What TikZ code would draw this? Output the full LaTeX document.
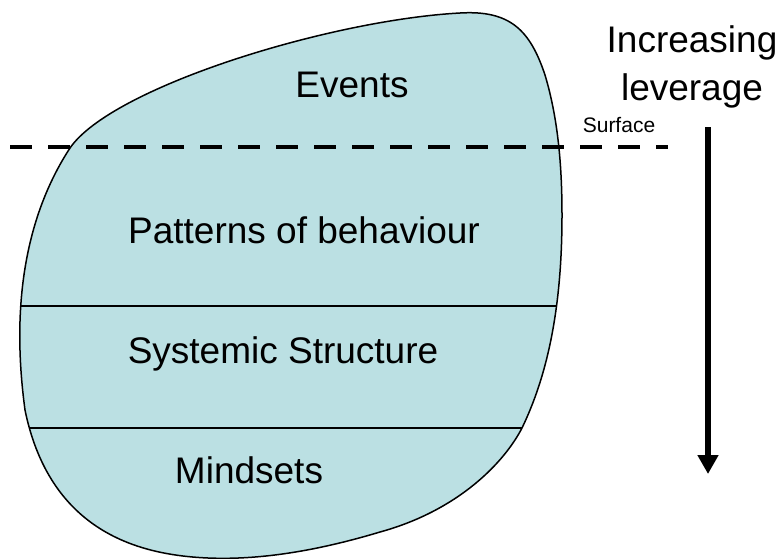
\documentclass[tikz,border=0pt]{standalone}
\usepackage{fontspec}
\setmainfont{Liberation Sans}
\usetikzlibrary{arrows.meta}
\definecolor{blobfill}{RGB}{187,224,227}
\tikzset{
  lbl/.style={inner sep=0pt, anchor=base, font=\fontsize{37}{42}\selectfont},
  small/.style={inner sep=0pt, anchor=base, font=\fontsize{21}{24}\selectfont},
  divider/.style={line width=1.5pt},
  surfaceline/.style={line width=4.7pt, dash pattern=on 22pt off 16pt},
  levarrow/.style={line width=6pt, -{Triangle[width=20pt,length=19pt]}}
}
\begin{document}
\begin{tikzpicture}[x=1pt,y=-1pt]
\useasboundingbox (0,0) rectangle (779,558);
\def\blobpath{(70,148) .. controls (112,87) and (330,20) .. (460,13)
 .. controls (510,10) and (530,30) .. (545,75)
 .. controls (557,115) and (562,160) .. (562,215)
 .. controls (562,300) and (550,370) .. (522,428)
 .. controls (505,461) and (460,510) .. (380,532)
 .. controls (320,550) and (250,564) .. (183,556)
 .. controls (125,549) and (48,522) .. (25,410)
 .. controls (17,350) and (10,240) .. (70,148) -- cycle}
\fill[blobfill] \blobpath;
\begin{scope}
  \clip \blobpath;
  \draw[divider] (0,306) -- (779,306);
  \draw[divider] (0,428) -- (779,428);
\end{scope}
\draw[line width=1.5pt, line join=round] \blobpath;
\draw[surfaceline] (10,147) -- (668,147);
\coordinate (arrtop) at (708,127);
\coordinate (arrbot) at (708,474);
\draw[levarrow] (arrtop) -- (arrbot);
\node[lbl] (events) at (352,97) {Events};
\node[lbl] (patterns) at (304,243) {Patterns of behaviour};
\node[lbl] (structure) at (283,363) {Systemic Structure};
\node[lbl] (mindsets) at (249,483) {Mindsets};
\node[lbl] (incr) at (692,52) {Increasing};
\node[lbl] (lev) at (692,100) {leverage};
\node[small] (surface) at (619,132) {Surface};
\end{tikzpicture}
\end{document}
